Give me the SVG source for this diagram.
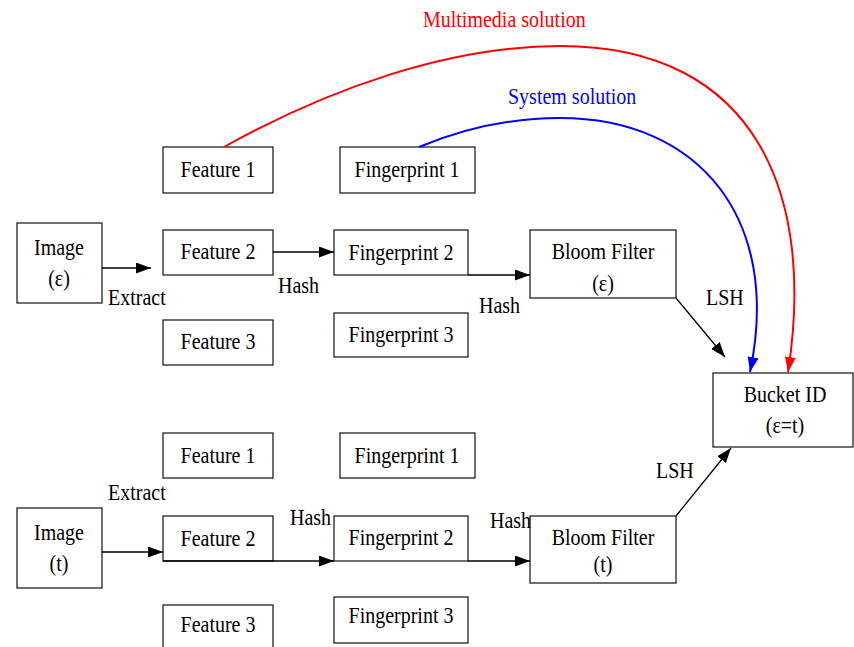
<svg xmlns="http://www.w3.org/2000/svg" width="854" height="647" viewBox="0 0 854 647">
  <style>
    .box { fill: #ffffff; stroke: #222222; stroke-width: 1.3; }
    .t { font-family: "Liberation Serif", "Times New Roman", serif; font-size: 20px; fill: #000000; }
    .c { text-anchor: middle; }
    .edge { fill: none; stroke: #000000; stroke-width: 1.3; }
    .red { fill: none; stroke: #ff0000; stroke-width: 2; }
    .blue { fill: none; stroke: #0000ff; stroke-width: 2; }
  </style>
  <defs>
    <marker id="ah" markerUnits="userSpaceOnUse" markerWidth="15" markerHeight="11" refX="15" refY="5.5" orient="auto">
      <path d="M0,0 L15,5.5 L0,11 Z" fill="#000000"/>
    </marker>
    <marker id="ahRed" markerUnits="userSpaceOnUse" markerWidth="15" markerHeight="11" refX="15" refY="5.5" orient="auto">
      <path d="M0,0 L15,5.5 L0,11 Z" fill="#ff0000"/>
    </marker>
    <marker id="ahBlue" markerUnits="userSpaceOnUse" markerWidth="15" markerHeight="11" refX="15" refY="5.5" orient="auto">
      <path d="M0,0 L15,5.5 L0,11 Z" fill="#0000ff"/>
    </marker>
  </defs>
  <rect width="854" height="647" fill="#ffffff"/>

  <!-- upper pipeline (image ε) -->
  <g id="image-e">
    <rect class="box" x="17" y="223" width="85" height="80"/>
    <text class="t c" transform="translate(59 255) scale(1 1.2)">Image</text>
    <text class="t c" transform="translate(59 286) scale(1 1.2)">(ε)</text>
  </g>
  <g id="feature1-e">
    <rect class="box" x="163" y="147" width="110" height="46"/>
    <text class="t c" transform="translate(218 177) scale(1 1.2)">Feature 1</text>
  </g>
  <g id="feature2-e">
    <rect class="box" x="163" y="230" width="110" height="45"/>
    <text class="t c" transform="translate(218 259) scale(1 1.2)">Feature 2</text>
  </g>
  <g id="feature3-e">
    <rect class="box" x="163" y="320" width="110" height="45"/>
    <text class="t c" transform="translate(218 349) scale(1 1.2)">Feature 3</text>
  </g>
  <g id="fingerprint1-e">
    <rect class="box" x="340" y="147" width="135" height="46"/>
    <text class="t c" transform="translate(407 177) scale(1 1.2)">Fingerprint 1</text>
  </g>
  <g id="fingerprint2-e">
    <rect class="box" x="334" y="230" width="134" height="45"/>
    <text class="t c" transform="translate(401 260) scale(1 1.2)">Fingerprint 2</text>
  </g>
  <g id="fingerprint3-e">
    <rect class="box" x="334" y="313" width="134" height="44"/>
    <text class="t c" transform="translate(401 342) scale(1 1.2)">Fingerprint 3</text>
  </g>
  <g id="bloom-e">
    <rect class="box" x="530" y="230" width="146" height="68"/>
    <text class="t c" transform="translate(603 259) scale(1 1.2)">Bloom Filter</text>
    <text class="t c" transform="translate(603 291) scale(1 1.2)">(ε)</text>
  </g>

  <!-- shared bucket -->
  <g id="bucket">
    <rect class="box" x="713" y="373" width="140" height="74"/>
    <text class="t c" transform="translate(785 402) scale(1 1.2)">Bucket ID</text>
    <text class="t c" transform="translate(785 433) scale(1 1.2)">(ε=t)</text>
  </g>

  <!-- lower pipeline (image t) -->
  <g id="feature1-t">
    <rect class="box" x="163" y="433" width="110" height="45"/>
    <text class="t c" transform="translate(218 463) scale(1 1.2)">Feature 1</text>
  </g>
  <g id="fingerprint1-t">
    <rect class="box" x="340" y="433" width="135" height="45"/>
    <text class="t c" transform="translate(407 463) scale(1 1.2)">Fingerprint 1</text>
  </g>
  <g id="image-t">
    <rect class="box" x="17" y="508" width="85" height="80"/>
    <text class="t c" transform="translate(59 540) scale(1 1.2)">Image</text>
    <text class="t c" transform="translate(59 571) scale(1 1.2)">(t)</text>
  </g>
  <g id="feature2-t">
    <rect class="box" x="163" y="516" width="110" height="45"/>
    <text class="t c" transform="translate(218 546) scale(1 1.2)">Feature 2</text>
  </g>
  <g id="feature3-t">
    <rect class="box" x="163" y="605" width="110" height="46"/>
    <text class="t c" transform="translate(218 632) scale(1 1.2)">Feature 3</text>
  </g>
  <g id="fingerprint2-t">
    <rect class="box" x="334" y="516" width="134" height="45"/>
    <text class="t c" transform="translate(401 545) scale(1 1.2)">Fingerprint 2</text>
  </g>
  <g id="fingerprint3-t">
    <rect class="box" x="334" y="597" width="134" height="46"/>
    <text class="t c" transform="translate(401 623) scale(1 1.2)">Fingerprint 3</text>
  </g>
  <g id="bloom-t">
    <rect class="box" x="530" y="516" width="146" height="67"/>
    <text class="t c" transform="translate(603 545) scale(1 1.2)">Bloom Filter</text>
    <text class="t c" transform="translate(603 572) scale(1 1.2)">(t)</text>
  </g>

  <!-- connectors -->
  <g id="connectors">
    <path class="edge" d="M102,268 L151,268" marker-end="url(#ah)"/>
    <path class="edge" d="M273,252 L334,252" marker-end="url(#ah)"/>
    <path class="edge" d="M468,275 L530,275" marker-end="url(#ah)"/>
    <path class="edge" d="M676,298 L725,357" marker-end="url(#ah)"/>
    <path class="edge" d="M102,552 L163,552" marker-end="url(#ah)"/>
    <path class="edge" d="M163,561 L334,561" marker-end="url(#ah)"/>
    <path class="edge" d="M468,561 L530,561" marker-end="url(#ah)"/>
    <path class="edge" d="M676,516 L731,448" marker-end="url(#ah)"/>
    <path class="red" d="M224,147 C330,88 450,46 560,46 C760,46 815,200 788,372" marker-end="url(#ahRed)"/>
    <path class="blue" d="M419,147 C460,130 510,118 560,118 C700,118 782,220 750,372" marker-end="url(#ahBlue)"/>

    <!-- connector labels -->
    <text class="t" transform="translate(108 305) scale(1 1.2)">Extract</text>
    <text class="t" transform="translate(278 293) scale(1 1.2)">Hash</text>
    <text class="t" transform="translate(479 313) scale(1 1.2)">Hash</text>
    <text class="t" transform="translate(706 305) scale(1 1.2)">LSH</text>
    <text class="t" transform="translate(108 500) scale(1 1.2)">Extract</text>
    <text class="t" transform="translate(290 525) scale(1 1.2)">Hash</text>
    <text class="t" transform="translate(490 528) scale(1 1.2)">Hash</text>
    <text class="t" transform="translate(656 478) scale(1 1.2)">LSH</text>
    <text class="t" style="fill:#ff0000" transform="translate(423 27) scale(1 1.2)">Multimedia solution</text>
    <text class="t" style="fill:#0000ff" transform="translate(508 104) scale(1 1.2)">System solution</text>
  </g>
</svg>
